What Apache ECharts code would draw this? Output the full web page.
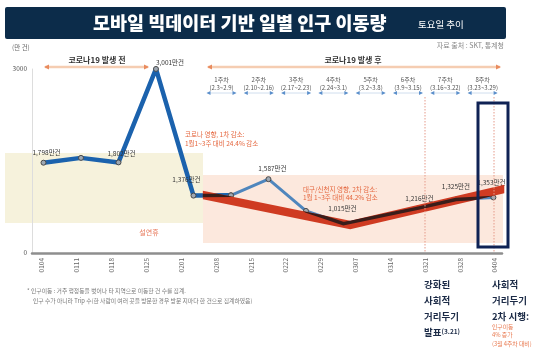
<!DOCTYPE html>
<html><head><meta charset="utf-8">
<script src="https://cdn.jsdelivr.net/npm/echarts@6/dist/echarts.min.js"></script>
<style>html,body{margin:0;padding:0;background:#fff}#c{width:540px;height:348px}</style>
</head><body><div id="c"></div>
<script>
// ---- data ----
const dates = ['0104','0111','0118','0125','0201','0208','0215','0222','0229','0307','0314','0321','0328','0404'];
const yTicks = [0, 3000];
// drawn line vertices (one vertex hidden under the trend line is left empty)
const moves = [1798, 1860, 1802, 3001, 1376, 1380, 1587, 1180, 1015, null, 1216, 1325, 1353];
const moveLabels = ['1,798만건','','1,802만건','3,001만건','1,376만건','','1,587만건','','1,015만건','','1,216만건','1,325만건','1,353만건'];
const trendIdx = [4.25, 8.18, 12.29];
const trendVal = [1384, 1000, 1460];
const weeks = ['1주차','2주차','3주차','4주차','5주차','6주차','7주차','8주차'];
const weekRanges = ['(2.3~2.9)','(2.10~2.16)','(2.17~2.23)','(2.24~3.1)','(3.2~3.8)','(3.9~3.15)','(3.16~3.22)','(3.23~3.29)'];
const titleText = '모바일 빅데이터 기반 일별 인구 이동량';
const subTitle = '토요일 추이';

// ---- style ----
const FONT = '"Noto Sans CJK KR", "Noto Sans", sans-serif';
const labelOffsets = [[3,-10],[0,0],[3,-9],[14,-6],[-7,-16],[0,0],[4,-11],[0,0],[-1,-15],[0,0],[1,-10],[0,-13],[-2,-15]];

function T(x, y, text, size, color, bold, align, extra) {
  return {type:'text', x:x, y:y, z:60, silent:true, style:Object.assign({
    text:text, fill:color, fontSize:size, fontFamily:FONT, fontWeight:bold===true?'bold':(bold||'normal'),
    textAlign:align||'left', align:align||'left', textVerticalAlign:'middle', verticalAlign:'middle'}, extra||{})};
}
const G = [];
G.push({type:'rect', z:1, shape:{x:5,y:7,width:501,height:32,r:2}, style:{fill:'#0c2c4a'}});
G.push(T(93, 23, titleText, 18.5, '#ffffff', 900));
G.push(T(418, 24.5, subTitle, 9.5, '#ffffff', false));
G.push(T(12, 48, '(만 건)', 6.5, '#666', false));
G.push(T(504, 45, '자료 출처 : SKT, 통계청', 7, '#888', false, 'right'));
// background bands
G.push({type:'rect', z:0, shape:{x:5,y:153,width:198,height:70}, style:{fill:'#f6f2dc'}});
G.push({type:'rect', z:0, shape:{x:203,y:175,width:300,height:68}, style:{fill:'#fce8dd'}});
G.push(T(149, 232, '설연휴', 7, '#e8795b', false, 'center'));
// phase arrows
function arrow(x1, x2, y, lc, hc, lw, hs, hw) {
  G.push({type:'line', z:10, shape:{x1:x1,y1:y,x2:x2,y2:y}, style:{stroke:lc, lineWidth:lw}});
  G.push({type:'polygon', z:11, shape:{points:[[x1-1,y],[x1+hs,y-hw],[x1+hs,y+hw]]}, style:{fill:hc}});
  G.push({type:'polygon', z:11, shape:{points:[[x2+1,y],[x2-hs,y-hw],[x2-hs,y+hw]]}, style:{fill:hc}});
}
arrow(45, 148, 67, '#f5cdb2', '#e98b5e', 2.5, 4, 2.5);
arrow(208, 500, 67, '#f5cdb2', '#e98b5e', 2.5, 4, 2.5);
G.push(T(97, 59.5, '코로나19 발생 전', 8, '#333', true, 'center'));
G.push(T(353, 59.5, '코로나19 발생 후', 8, '#333', true, 'center'));
// week markers
weeks.forEach(function (w, k) {
  const cx = 221.5 + 37.3 * k;
  G.push(T(cx, 80, w, 6, '#555', false, 'center'));
  G.push(T(cx, 87.5, weekRanges[k], 6, '#555', false, 'center'));
  arrow(cx - 14, cx + 14, 93, '#c4d6ea', '#5b8fcb', 0.8, 3, 2);
});
// red notes
G.push(T(185, 135, '코로나 영향, 1차 감소:', 6.5, '#e5673f', false));
G.push(T(185, 144, '1월1~3주 대비 24.4% 감소', 6.5, '#e5673f', false));
G.push(T(303, 190, '대구/신천지 영향, 2차 감소:', 6.5, '#e5673f', false));
G.push(T(303, 197.5, '1월 1~3주 대비 44.2% 감소', 6.5, '#e5673f', false));
// dotted guides and box
G.push({type:'line', z:12, shape:{x1:425,y1:97,x2:425,y2:253}, style:{stroke:'#e59a8a', lineWidth:1, lineDash:[1.5,1.5]}});
G.push({type:'line', z:12, shape:{x1:494,y1:97,x2:494,y2:253}, style:{stroke:'#e59a8a', lineWidth:1, lineDash:[1.5,1.5]}});
G.push({type:'rect', z:70, shape:{x:478,y:103,width:30,height:144}, style:{fill:'none', stroke:'#0f2254', lineWidth:3}});
// footnote
G.push(T(27, 291, '* 인구이동 : 거주 행정동을 벗어나 타 지역으로 이동한 건 수를 집계.', 5.8, '#777', false));
G.push(T(33, 301, '인구 수가 아니라 Trip 수(한 사람이 여러 곳을 방문한 경우 방문 지마다 한 건으로 집계하였음)', 5.8, '#777', false));
// bottom right notes
const NV = '#1c2b47';
const BS = 9.5;
['강화된','사회적','거리두기'].forEach(function (s, i) { G.push(T(424, 284 + 16 * i, s, BS, NV, true)); });
G.push({type:'text', x:424, y:332, z:60, style:{text:'{a|발표}{b|(3.21)}', textVerticalAlign:'middle', verticalAlign:'middle',
  rich:{a:{fontSize:BS, fontWeight:'bold', fill:NV, color:NV, fontFamily:FONT}, b:{fontSize:6.5, fontWeight:'bold', fill:NV, color:NV, fontFamily:FONT}}}});
['사회적','거리두기','2차 시행:'].forEach(function (s, i) { G.push(T(492, 284 + 16 * i, s, BS, NV, true)); });
['인구이동','4% 증가','(3월 4주차 대비)'].forEach(function (s, i) { G.push(T(492, 326.5 + 8.5 * i, s, 5.8, '#e8794f', false)); });

function pt(i, show) {
  return {value:[i, moves[i]], label:{show:show && !!moveLabels[i], formatter:moveLabels[i], position:'inside',
    offset:labelOffsets[i], fontSize:6.5, color:'#333', fontFamily:FONT}};
}
const dataA = [], dataB = [];
moves.forEach(function (v, i) {
  if (v === null) return;
  if (i <= 5) dataA.push(pt(i, i < 5));
  if (i >= 5) dataB.push(pt(i, true));
});
const sym = {symbol:'circle', symbolSize:5, itemStyle:{color:'#9ea8b3', borderColor:'#4a4a4a', borderWidth:1}};

const chart = echarts.init(document.getElementById('c'));
chart.setOption({
  animation:false,
  grid:{left:32, right:38, top:69, bottom:95},
  xAxis:[
    {type:'value', min:-0.287, max:13.201,
     axisLine:{show:true, onZero:false, lineStyle:{color:'#8e8e8e', width:2.5}},
     axisTick:{show:false}, splitLine:{show:false},
     axisLabel:{customValues:dates.map(function (d, i) { return i; }), formatter:function (v) { return dates[Math.round(v)]; },
       rotate:90, fontSize:6.5, color:'#666', margin:5, fontFamily:FONT}},
    {type:'value', min:-0.3067, max:12.229, show:false}
  ],
  yAxis:[
    {type:'value', min:yTicks[0], max:yTicks[1], interval:3000,
     axisLine:{show:true, onZero:false, lineStyle:{color:'#dddddd', width:1}},
     axisTick:{show:false}, splitLine:{show:false},
     axisLabel:{fontSize:6.5, color:'#555', margin:5, fontFamily:FONT, formatter:function (v) { return String(v); }}},
    {type:'value', min:640, max:3000, show:false}
  ],
  graphic:{elements:G},
  series:[
    Object.assign({type:'line', xAxisIndex:1, yAxisIndex:1, z:3, data:dataA, clip:false,
      lineStyle:{color:'#1b62ad', width:4.5}}, sym),
    Object.assign({type:'line', xAxisIndex:1, yAxisIndex:1, z:3, data:dataB, clip:false,
      lineStyle:{color:'#4f86bd', width:3}}, sym),
    {type:'custom', xAxisIndex:1, yAxisIndex:1, z:5, clip:false,
     data:trendIdx.map(function (x, k) { return [x, trendVal[k]]; }),
     renderItem:function (params, api) {
       if (params.dataIndex !== 0) return null;
       const pts = trendIdx.map(function (x, k) { return api.coord([x, trendVal[k]]); });
       const half = 4.2;
       const band = pts.map(function (p) { return [p[0], p[1] - half]; })
         .concat(pts.slice().reverse().map(function (p) { return [p[0], p[1] + half]; }));
       const bluePts = [];
       moves.forEach(function (v, i) { if (v !== null) bluePts.push(api.coord([i, v])); });
       return {type:'group', children:[
         {type:'polygon', shape:{points:band}, style:{fill:'#cf3b22'}},
         {type:'polyline', shape:{points:bluePts}, style:{stroke:'#3a1d1a', lineWidth:3.5, fill:null},
          clipPath:{type:'polygon', shape:{points:band}}}
       ]};
     }}
  ]
});
</script></body></html>
